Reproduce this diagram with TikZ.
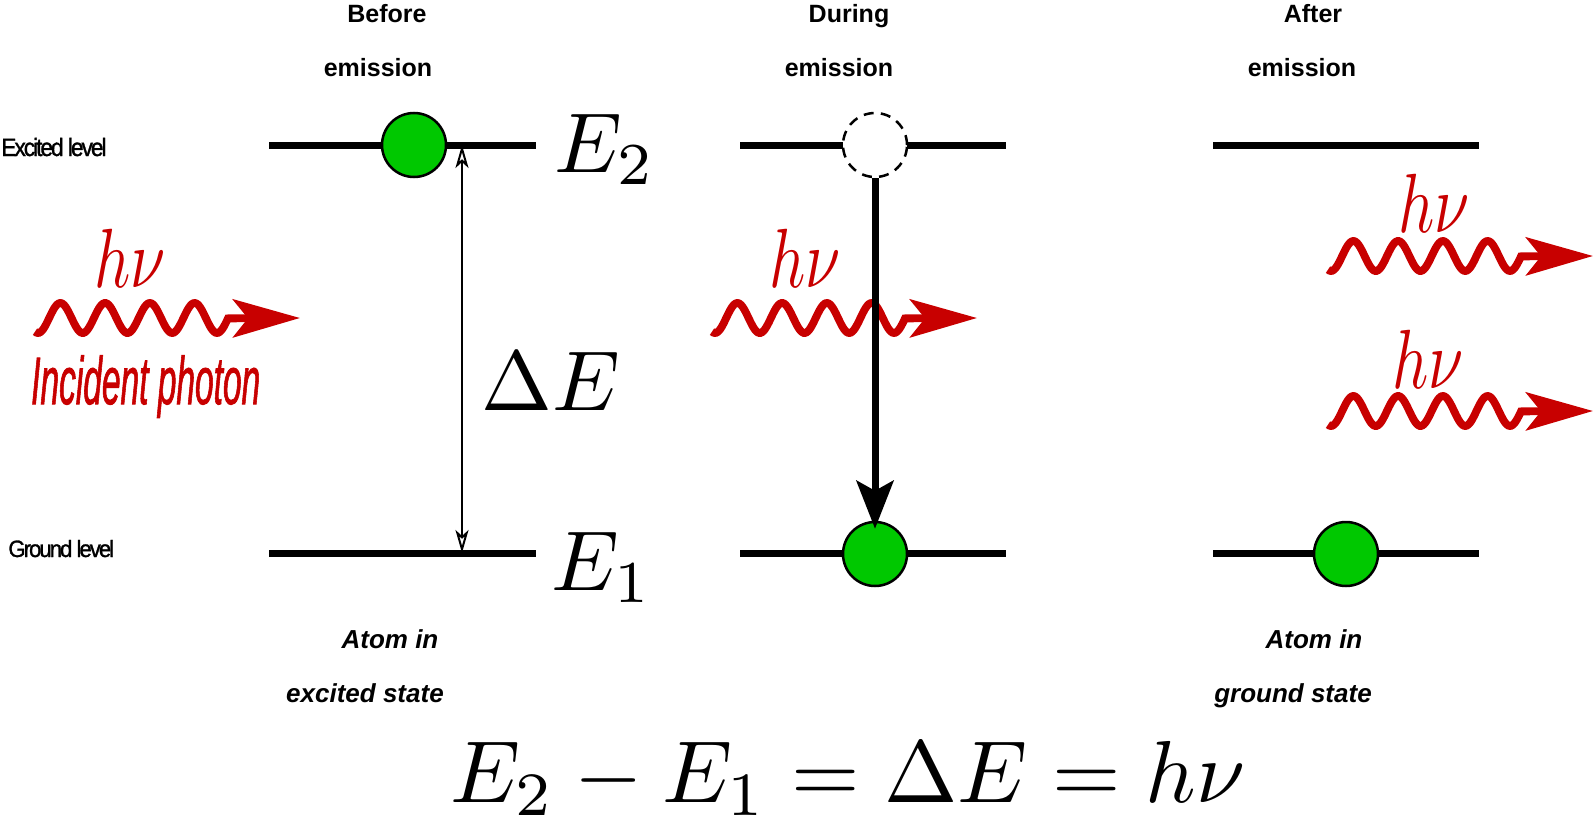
\documentclass[tikz,border=0pt]{standalone}
\usepackage{fontspec}
\newfontfamily\lsans{Liberation Sans}
\newfontfamily\lsanstight[LetterSpace=-9,FakeBold=1.2]{Liberation Sans}
\newfontfamily\lsansinc[FakeBold=1.6]{Liberation Sans}
\usetikzlibrary{arrows.meta,calc}
\definecolor{phred}{RGB}{200,0,0}
\definecolor{elgreen}{RGB}{0,200,0}
\newcommand\photonwave[2]{%
  \draw[photon] plot[domain=0:193,samples=140] ({#1+\x},{#2+15*cos(8.0447*(\x-3))}) -- (#1+265,#2);}
\begin{document}
\begin{tikzpicture}[x=0.5pt,y=-0.5pt,
  elevel/.style={line width=3.5pt},
  electron/.style={circle,draw=black,fill=elgreen,line width=1.25pt,minimum size=32pt,inner sep=0pt},
  hole/.style={circle,draw=black,fill=white,line width=1.25pt,dash pattern=on 5pt off 3.6pt,minimum size=32pt,inner sep=0pt},
  photon/.style={draw=phred,line width=3.9pt,-{Stealth[length=33.5pt,width=19pt,inset=7.5pt]}},
  mathlbl/.style={inner sep=0pt,anchor=base west,scale=4.25},
  hnu/.style={inner sep=0pt,anchor=base,text=phred,xscale=3.15,yscale=4.2},
  hdr/.style={inner sep=0pt,anchor=base,font=\lsans\bfseries\fontsize{12.5pt}{15pt}\selectfont},
  ftr/.style={inner sep=0pt,anchor=base,font=\lsans\bfseries\itshape\fontsize{13pt}{15pt}\selectfont},
  lvl/.style={inner sep=0pt,anchor=base west},
  dEarrow/.style={line width=1pt,{Stealth[open,length=11.5pt,width=6.5pt,inset=3pt]}-{Stealth[open,length=11.5pt,width=6.5pt,inset=3pt]}},
  decay/.style={line width=3.5pt,-{Stealth[length=24pt,width=18.5pt,inset=5pt]}}
]
\useasboundingbox (0,0) rectangle (1594,824);
% level lines
\coordinate (a1) at (269,145); \coordinate (a2) at (536,145);
\coordinate (a3) at (269,553); \coordinate (a4) at (536,553);
\coordinate (b1) at (740,145); \coordinate (b2) at (1006,145);
\coordinate (b3) at (740,553); \coordinate (b4) at (1006,553);
\coordinate (c1) at (1213,145); \coordinate (c2) at (1479,145);
\coordinate (c3) at (1213,553); \coordinate (c4) at (1479,553);
\draw[elevel] (a1) -- (a2); \draw[elevel] (a3) -- (a4);
\draw[elevel] (b1) -- (b2); \draw[elevel] (b3) -- (b4);
\draw[elevel] (c1) -- (c2); \draw[elevel] (c3) -- (c4);
% level labels
\node[lvl,xscale=0.91,font=\lsanstight\fontsize{12.5pt}{15pt}\selectfont] (exc) at (1,156) {Excited level};
\node[lvl,xscale=0.94,font=\lsanstight\fontsize{11.8pt}{14pt}\selectfont] (gnd) at (8,557) {Ground level};
% headers
\node[hdr] (hb1) at (387,23) {Before};
\node[hdr] (hb2) at (378,76) {emission};
\node[hdr] (hd1) at (849,23) {During};
\node[hdr] (hd2) at (839,76) {emission};
\node[hdr] (ha1) at (1313,23) {After};
\node[hdr] (ha2) at (1302,76) {emission};
% footers
\node[ftr] (fa1) at (390,648) {Atom in};
\node[ftr] (fa2) at (365,702) {excited state};
\node[ftr] (fc1) at (1314,648) {Atom in};
\node[ftr] (fc2) at (1293,702) {ground state};
% panel 1
\node[electron] (g1) at (414,145) {};
\coordinate (dEt) at (462,145); \coordinate (dEb) at (462,553);
\draw[dEarrow] (dEt) -- (dEb);
\node[mathlbl] (E2) at (553,172) {$E_2$};
\node[mathlbl] (E1) at (550,590) {$E_1$};
\node[mathlbl] (dE) at (480,410) {$\Delta E$};
\photonwave{35}{318}
\node[hnu] (hn1) at (130,287) {$h\nu$};
\node[inner sep=0pt,anchor=base west,text=phred,xscale=0.5,font=\lsansinc\itshape\fontsize{33.5pt}{40pt}\selectfont] (inc) at (31,404) {Incident photon};
% panel 2
\node[hole] (h2) at (875,145) {};
\node[electron] (g2) at (875,554) {};
\photonwave{712}{318}
\node[hnu] (hn2) at (805,287) {$h\nu$};
\draw[decay] (h2.south) -- ($(g2.north)+(0,8)$);
% panel 3
\node[electron] (g3) at (1346,554) {};
\photonwave{1328}{256}
\photonwave{1328}{411}
\node[hnu] (hn3) at (1434,232) {$h\nu$};
\node[hnu] (hn4) at (1428,388) {$h\nu$};
% equation
\node[inner sep=0pt,anchor=base,scale=4.4] (eq) at (848,802) {$E_2-E_1=\Delta E=h\nu$};
\end{tikzpicture}
\end{document}
